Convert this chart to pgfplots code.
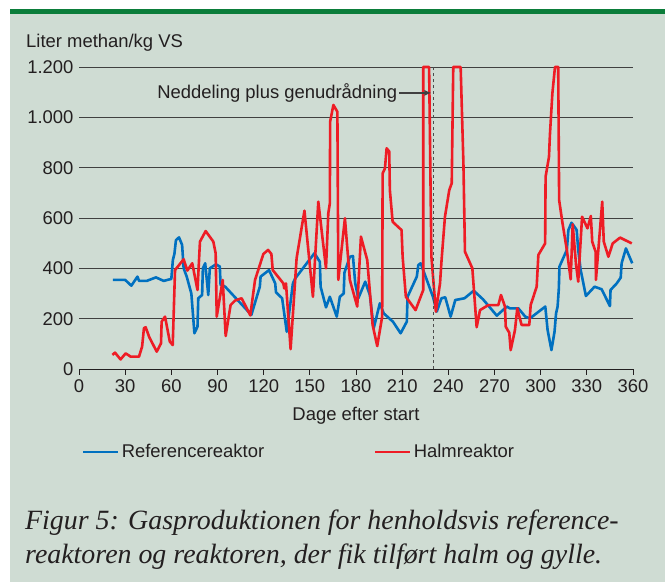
\documentclass[border=0pt]{standalone}
\usepackage{pgfplots}
\pgfplotsset{compat=1.18}
\usetikzlibrary{arrows.meta}
\usepackage{fontspec}
\setmainfont{Liberation Sans}
\newfontfamily\capfont{Liberation Serif}

\definecolor{panel}{HTML}{CFDCD3}
\definecolor{topbar}{HTML}{0B7D3A}
\definecolor{refblue}{HTML}{0070C0}
\definecolor{halmred}{HTML}{EE1C25}
\definecolor{txt}{HTML}{231F20}

\pgfplotstableread{
day val
22 354
30 354
34 331
38 367
39 350
44 350
50 364
55 350
60 358
61 433
62 457
63 512
65 523
67 493
68 400
70 367
73 300
75 142
77 168
77.5 281
80 294
80.5 400
82 420
84 294
85 400
89 416
91.5 407
92 334
95 327
112 215
117.5 327
118 367
123.5 393
127.5 340
128 305
132 281
135 148
139 340
140.5 360
153 460
156.5 426
157 327
160.5 245
163 287
167.5 208
169.5 287
172 300
172.5 383
176 446
178 449
179.5 340
181.5 281
186 347
189 294
191.5 162
195.5 261
198 221
204 188
209 142
213 188
213.5 287
219.5 367
220.5 413
222 420
226 354
230 287
232.5 228
235.5 281
238 285
241.5 208
244.5 274
250.5 281
256.5 311
262.5 277
271.5 212
278 248
280 241
285.5 241
290 208
293 201
303 248
304.5 155
307 75
309 148
310 221
311 248
311.8 320
312.2 407
317 473
318 552
320 581
322 565
323.4 552
324.4 473
326 393
329.4 290
335 327
339.6 317
345 250
345.4 314
349.4 340
352 363
352.6 420
355.4 479
359.5 420
}\reftable

\pgfplotstableread{
day val
21.7 56
23.4 65
27 38
30.3 62
33.6 49
39 49
41 89
42.2 162
43.3 166
45.7 126
50.5 69
53.3 102
53.7 188
55.9 208
59 109
60.9 95
62.4 393
68 436
70.4 391
73.6 420
77 314
78.6 506
82.3 548
87.3 506
88.8 460
89.5 208
93.4 354
95.3 131
98.5 254
101.4 272
105.7 281
111.3 213
114.4 354
119.8 457
122.9 473
125 457
125.9 393
132.8 340
133.4 320
134.5 340
137.5 79
141.4 440
146.5 629
152 287
155.5 665
160.5 400
162 619
163 658
163.2 983
165.3 1049
167.9 1022
168.5 354
172.8 599
176 354
180.8 248
183.2 526
187.3 433
190.8 175
193.8 91
197 208
197.3 777
198.8 797
199.9 877
201.6 864
202 711
203.8 585
209.6 552
210.3 446
212.4 287
218.7 234
223.7 314
223.7 1200
227.5 1200
229 446
231.9 228
234.6 340
235.6 433
237.8 605
240.6 711
242.2 738
243.2 1200
248 1200
249.8 817
250.8 466
255.6 400
258.4 166
260.6 234
266 254
272.5 254
274.2 294
276.8 248
277.3 168
279.6 144
280.5 75
283.3 155
284.8 241
287.6 175
292.6 175
293.5 254
297.4 327
298.5 453
302.9 499
303.2 764
305.4 843
306 930
307.6 1095
309.3 1200
311.4 1200
312 671
314.2 579
317 473
319.5 356
320.8 575
323 413
324.4 347
326.9 605
330.4 559
332.6 608
333.5 506
335.7 466
335.9 354
340 665
341 506
344 446
346.8 499
351.6 522
359.2 499
}\halmtable

\begin{document}
\begin{tikzpicture}[x=1bp,y=1bp]
\useasboundingbox (0,0) rectangle (665,582);
\fill[panel] (10,0) rectangle (665,568);
\fill[topbar] (10,568) rectangle (665,573);

\begin{axis}[
    at={(79bp,213bp)}, anchor=south west,
    scale only axis, width=554bp, height=302bp,
    xmin=0, xmax=360, ymin=0, ymax=1200,
    clip=false,
    axis x line*=bottom, axis y line*=left,
    x axis line style={txt, line width=0.9bp, -},
    y axis line style={draw=none},
    xtick={0,30,...,360},
    ytick={0,200,...,1200},
    yticklabels={0,200,400,600,800,{1.000},{1.200}},
    xtick align=outside, major tick length=6bp,
    xtick style={txt, line width=0.8bp},
    ytick style={draw=none},
    ymajorgrids, grid style={black!75, line width=0.8bp},
    tick label style={font=\fontsize{18.5}{21}\selectfont, text=txt},
    /pgf/number format/assume math mode=true,
    xticklabel style={yshift=-1bp},
    yticklabel style={xshift=-2bp},
    legend columns=2,
    legend style={draw=none, fill=none, at={(rel axis cs:0,-0.275)}, anchor=west,
        font=\fontsize{18.5}{21}\selectfont, text=txt,
        /tikz/every even column/.append style={column sep=108bp}},
    legend image code/.code={\draw[#1] (0bp,0bp) -- (35bp,0bp);},
    every axis plot/.append style={line width=2.6bp, line join=round},
]
\addplot[refblue, no markers] table[x=day, y=val] {\reftable};
\addlegendentry{Referencereaktor}
\addplot[halmred, no markers] table[x=day, y=val] {\halmtable};
\addlegendentry{Halmreaktor}
\draw[black!70, dashed, line width=0.8bp] (axis cs:230,0) -- (axis cs:230,1200);
\draw[black!75, line width=1.2bp, -{Latex[length=7bp,width=6bp]}] (axis cs:208,1097) -- (axis cs:229,1097);
\node[anchor=east, text=txt, font=\fontsize{18.5}{21}\selectfont, inner sep=1bp] at (axis cs:207.5,1097) {Neddeling plus genudrådning};
\end{axis}

\node[anchor=base west, text=txt, font=\fontsize{18.5}{21}\selectfont, inner sep=0] at (26,534) {Liter methan/kg VS};
\node[anchor=base, text=txt, font=\fontsize{18.5}{21}\selectfont, inner sep=0] at (356,161) {Dage efter start};
\node[anchor=base west, text=txt, inner sep=0, font=\capfont\itshape\fontsize{28}{34}\selectfont] at (25,52) {Figur 5: Gasproduktionen for henholdsvis reference-};
\node[anchor=base west, text=txt, inner sep=0, font=\capfont\itshape\fontsize{28}{34}\selectfont] at (25,18) {reaktoren og reaktoren, der fik tilført halm og gylle.};
\end{tikzpicture}
\end{document}
